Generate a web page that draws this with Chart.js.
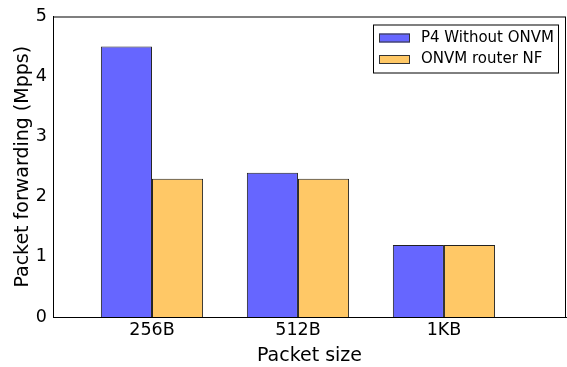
<!DOCTYPE html>
<html>
<head>
<meta charset="utf-8">
<script src="https://cdn.jsdelivr.net/npm/chart.js@4/dist/chart.umd.min.js"></script>
<style>
html,body{margin:0;padding:0;background:#fff;}
#wrap{width:567px;height:367px;}
</style>
</head>
<body>
<div id="wrap"><canvas id="c" width="567" height="367"></canvas></div>
<script>
const categories = ['256B', '512B', '1KB'];
const p4WithoutOnvm = [4.5, 2.4, 1.2];
const onvmRouterNf = [2.3, 2.3, 1.2];
const seriesNames = ['P4 Without ONVM', 'ONVM router NF'];
const yTicks = [0, 1, 2, 3, 4, 5];

const FONT = 'DejaVu Sans';
const blue = 'rgb(102,102,255)';
const orange = 'rgb(255,200,102)';

const boxPlugin = {
  id: 'boxAndLegend',
  afterDraw(chart) {
    const ctx = chart.ctx, a = chart.chartArea;
    ctx.save();
    ctx.strokeStyle = '#000';
    ctx.lineWidth = 1;
    ctx.strokeRect(a.left + 0.5, a.top + 0.5, a.right - a.left - 1, a.bottom - a.top);
    // legend
    const lx = a.right - 193, ly = a.top + 8, lw = 185, lh = 48;
    ctx.fillStyle = '#fff';
    ctx.fillRect(lx, ly, lw, lh);
    ctx.strokeRect(lx + 0.5, ly + 0.5, lw, lh);
    const cols = [blue, orange];
    ctx.font = '15px "' + FONT + '"';
    ctx.textBaseline = 'middle';
    for (let i = 0; i < 2; i++) {
      const sy = ly + 9 + i * 21.5;
      ctx.fillStyle = cols[i];
      ctx.fillRect(lx + 6, sy, 31, 9);
      ctx.strokeStyle = '#333';
      ctx.strokeRect(lx + 6.5, sy + 0.5, 30, 8);
      ctx.fillStyle = '#000';
      ctx.fillText(seriesNames[i], lx + 48, sy + 4.5);
    }
    ctx.restore();
  }
};

new Chart(document.getElementById('c'), {
  type: 'bar',
  data: {
    datasets: [
      { label: seriesNames[0], data: categories.map((c, i) => ({x: i, y: p4WithoutOnvm[i]})),
        backgroundColor: blue, borderColor: '#222', borderWidth: 1,
        categoryPercentage: 0.7, barPercentage: 1.0 },
      { label: seriesNames[1], data: categories.map((c, i) => ({x: i, y: onvmRouterNf[i]})),
        backgroundColor: orange, borderColor: '#222', borderWidth: 1,
        categoryPercentage: 0.7, barPercentage: 1.0 }
    ]
  },
  options: {
    responsive: false,
    animation: false,
    devicePixelRatio: 1,
    layout: { padding: { top: 15, right: 1, left: 0, bottom: 0 } },
    plugins: { legend: { display: false }, tooltip: { enabled: false } },
    scales: {
      x: {
        type: 'linear',
        offset: false,
        min: -0.678, max: 2.836,
        afterBuildTicks(s) { s.ticks = categories.map((c, i) => ({value: i})); },
        afterFit(s) { s.height = 50; },
        ticks: {
          callback: (v) => categories[v] !== undefined ? categories[v] : '',
          font: { family: FONT, size: 17.5 }, color: '#000', padding: 3, maxRotation: 0, autoSkip: false
        },
        grid: { display: false, drawTicks: false, offset: false },
        border: { display: true, color: '#000', width: 1 },
        title: { display: true, text: 'Packet size', font: { family: FONT, size: 19 }, color: '#000', padding: { top: 3, bottom: 0 } }
      },
      y: {
        min: 0, max: 5,
        afterBuildTicks(s) { s.ticks = yTicks.map(v => ({value: v})); },
        afterFit(s) { s.width = 53; },
        ticks: { font: { family: FONT, size: 17.5 }, color: '#000', padding: 6 },
        grid: { display: false, drawTicks: false },
        border: { display: true, color: '#000', width: 1 },
        title: { display: true, text: 'Packet forwarding (Mpps)', font: { family: FONT, size: 19 }, color: '#000', padding: { top: 12, bottom: 0 } }
      }
    }
  },
  plugins: [boxPlugin]
});
</script>
</body>
</html>
